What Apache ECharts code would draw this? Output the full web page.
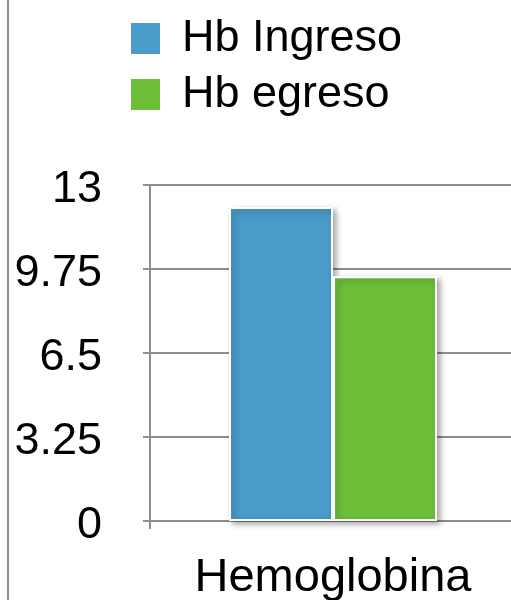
<!DOCTYPE html>
<html>
<head>
<meta charset="utf-8">
<script src="https://cdn.jsdelivr.net/npm/echarts@6/dist/echarts.min.js"></script>
<style>html,body{margin:0;padding:0;background:#fff;}#c{width:511px;height:600px;}</style>
</head>
<body>
<div id="c"></div>
<script>
var categories = ['Hemoglobina'];
var seriesNames = ['Hb Ingreso', 'Hb egreso'];
var hbIngreso = [12.15];
var hbEgreso = [9.47];
var colors = ['#4A9BCA', '#6DBF3A'];

var chart = echarts.init(document.getElementById('c'));
var barStyle = function (c) {
  return {
    color: c,
    borderColor: '#ffffff',
    borderWidth: 2,
    shadowColor: 'rgba(0,0,0,0.35)',
    shadowBlur: 6,
    shadowOffsetX: 3,
    shadowOffsetY: 3
  };
};
chart.setOption({
  animation: false,
  textStyle: { fontFamily: 'Liberation Sans, Arial, sans-serif' },
  legend: {
    orient: 'vertical',
    left: 124,
    top: 11,
    itemWidth: 31,
    itemHeight: 33,
    itemGap: 11,
    icon: 'rect',
    textStyle: { fontSize: 45, color: '#000', padding: [0, 0, 0, 16] },
    data: seriesNames
  },
  grid: { left: 150, width: 366, top: 185, bottom: 79, containLabel: false, outerBoundsMode: 'none' },
  xAxis: {
    type: 'category',
    data: categories,
    axisLine: { show: true, lineStyle: { color: '#8e8e8e', width: 2 } },
    axisTick: { show: true, length: 8, lineStyle: { color: '#8e8e8e', width: 2 } },
    axisLabel: { fontSize: 47, color: '#000', margin: 34 }
  },
  yAxis: {
    type: 'value',
    min: 0,
    max: 13,
    interval: 3.25,
    axisLine: { show: true, lineStyle: { color: '#8e8e8e', width: 2 } },
    axisTick: { show: true, length: 7, lineStyle: { color: '#8e8e8e', width: 2 } },
    axisLabel: { fontSize: 45, color: '#000', margin: 48, verticalAlign: 'top', lineHeight: 10 },
    splitLine: { show: true, lineStyle: { color: '#8e8e8e', width: 2 } }
  },
  graphic: [{
    type: 'line',
    shape: { x1: 8, y1: 0, x2: 8, y2: 600 },
    style: { stroke: '#8e8e8e', lineWidth: 2 }
  }],
  series: [
    { name: seriesNames[0], type: 'bar', data: hbIngreso, barWidth: 104, barGap: '0%', itemStyle: barStyle(colors[0]) },
    { name: seriesNames[1], type: 'bar', data: hbEgreso, barWidth: 104, barGap: '0%', itemStyle: barStyle(colors[1]) }
  ]
});
</script>
</body>
</html>
